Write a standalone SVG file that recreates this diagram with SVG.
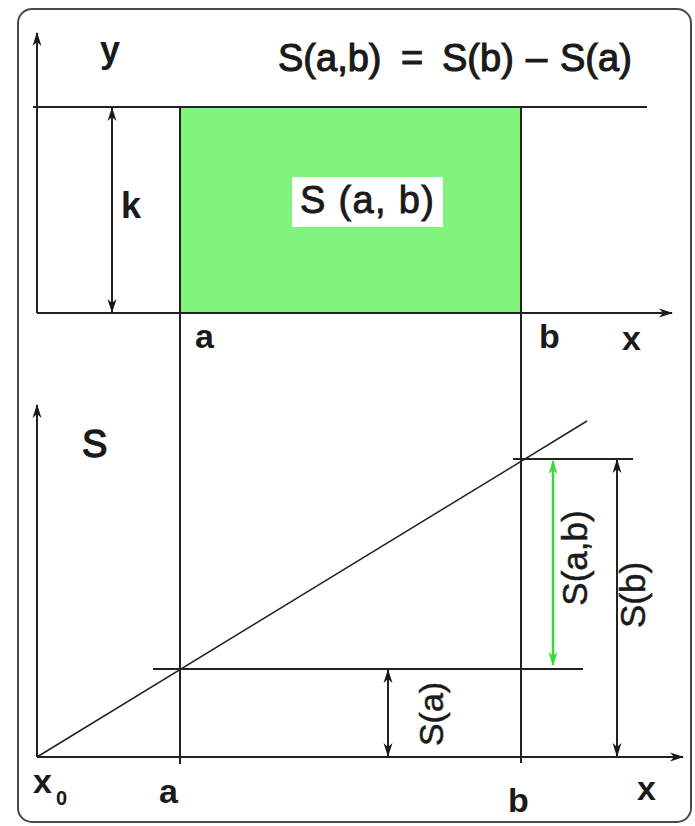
<svg xmlns="http://www.w3.org/2000/svg" width="695" height="826" viewBox="0 0 695 826">
<style>
.ln{stroke:#222;stroke-width:2;fill:none}
.thin{stroke:#222;stroke-width:1.5;fill:none}
.arr{stroke:#222;stroke-width:2;fill:none;marker-end:url(#ah)}
.dbl{stroke:#222;stroke-width:2;fill:none;marker-start:url(#ah);marker-end:url(#ah)}
.gdbl{stroke:#36dc36;stroke-width:2.5;fill:none;marker-start:url(#gh);marker-end:url(#gh)}
.lbl{font-family:"Liberation Sans",Arial,sans-serif;font-weight:bold;font-size:34px;fill:#1a1a1a}
.txt{font-family:"Liberation Sans",Arial,sans-serif;font-size:36px;fill:#1a1a1a;stroke:#1a1a1a;stroke-width:0.9}
</style>
<defs>
<marker id="ah" markerUnits="userSpaceOnUse" markerWidth="14" markerHeight="11" viewBox="0 0 14 11" refX="13" refY="5.5" orient="auto-start-reverse">
<path d="M0,1 L14,5.5 L0,10 L4,5.5 z" fill="#1a1a1a"/>
</marker>
<marker id="gh" markerUnits="userSpaceOnUse" markerWidth="14" markerHeight="11" viewBox="0 0 14 11" refX="13" refY="5.5" orient="auto-start-reverse">
<path d="M0,1 L14,5.5 L0,10 L4,5.5 z" fill="#36dc36"/>
</marker>
</defs>
<rect x="0" y="0" width="695" height="826" fill="#fff"/>
<rect id="frame" x="18" y="9" width="673" height="813" rx="14" fill="#fff" stroke="#4a4a4a" stroke-width="2"/>

<g id="area">
<rect x="180" y="107" width="341" height="206" fill="#80f47c"/>
<rect x="292" y="177" width="151" height="50" fill="#fff"/>
<text class="txt" x="300" y="213" style="font-size:38px" textLength="134" lengthAdjust="spacing">S (a, b)</text>
</g>

<g id="formula">
<text class="txt" y="71" style="font-size:38px;stroke-width:1.1"><tspan x="278">S(a,b)</tspan><tspan x="401">=</tspan><tspan x="442">S(b)</tspan><tspan x="526">–</tspan><tspan x="560">S(a)</tspan></text>
</g>

<g id="connectors">
<line class="arr" x1="37" y1="313" x2="37" y2="33"/>
<line class="arr" x1="37" y1="313" x2="672" y2="313"/>
<line class="ln" x1="33" y1="107" x2="647" y2="107"/>
<line class="dbl" x1="112" y1="108" x2="112" y2="312"/>
<line class="ln" x1="180" y1="107" x2="180" y2="764"/>
<line class="ln" x1="521" y1="107" x2="521" y2="763"/>
<line class="arr" x1="37" y1="757" x2="37" y2="405"/>
<line class="arr" x1="37" y1="757" x2="683" y2="757"/>
<line class="thin" x1="37" y1="757" x2="587" y2="421"/>
<line class="ln" x1="153" y1="669" x2="583" y2="669"/>
<line class="ln" x1="513" y1="459" x2="633" y2="459"/>
<line class="dbl" x1="388" y1="670" x2="388" y2="756"/>
<line class="dbl" x1="617" y1="460" x2="617" y2="756"/>
<line class="gdbl" x1="553" y1="461" x2="553" y2="665"/>
</g>

<g id="labels">
<text class="lbl" x="100" y="62" style="font-size:36px">y</text>
<text class="lbl" x="121" y="218" style="font-size:36px">k</text>
<text class="lbl" x="195" y="348">a</text>
<text class="lbl" x="539" y="348">b</text>
<text class="lbl" x="622" y="350">x</text>
<text class="lbl" x="82" y="457" style="font-weight:normal;stroke:#1a1a1a;stroke-width:1.4;font-size:38px">S</text>
<text class="lbl" x="33" y="793">x</text>
<text class="lbl" x="56" y="805" style="font-size:20px">0</text>
<text class="lbl" x="159" y="803">a</text>
<text class="lbl" x="508" y="812">b</text>
<text class="lbl" x="637" y="800">x</text>
<text class="txt" transform="translate(587,558) rotate(-90)" text-anchor="middle" style="font-size:35px;stroke-width:0.5">S(a,b)</text>
<text class="txt" transform="translate(645,595) rotate(-90)" text-anchor="middle" style="font-size:35px;stroke-width:0.5">S(b)</text>
<text class="txt" transform="translate(443,714) rotate(-90)" text-anchor="middle" style="font-size:34px;stroke-width:0.5">S(a)</text>
</g>
</svg>
